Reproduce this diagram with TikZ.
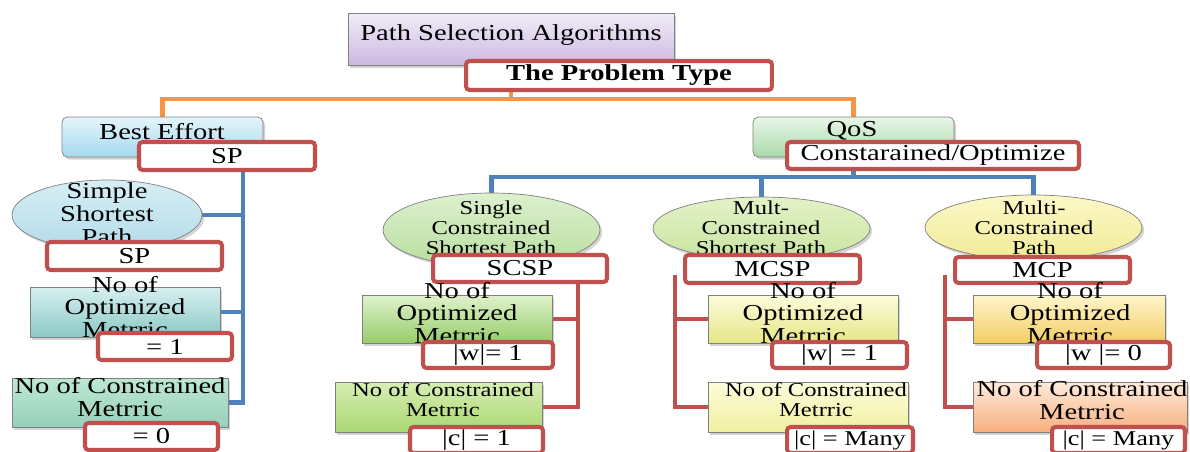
\documentclass[tikz,border=0pt]{standalone}
\usepackage{fontspec}
\setmainfont{Liberation Serif}[FakeStretch=1.25]
\usetikzlibrary{positioning,shapes.geometric,shadows}

\pgfdeclarelayer{bg}
\pgfsetlayers{bg,main}

\newcommand{\txtbig}{\fontsize{13}{13}\selectfont}
\newcommand{\txtsmall}{\fontsize{11.2}{11.4}\selectfont}

\definecolor{tagred}{RGB}{192,80,77}
\definecolor{orng}{RGB}{247,150,70}
\definecolor{blu}{RGB}{79,129,189}
\definecolor{ttlTop}{RGB}{242,236,248}
\definecolor{ttlBot}{RGB}{205,185,225}
\definecolor{beTop}{RGB}{228,244,251}
\definecolor{beBot}{RGB}{165,218,238}
\definecolor{qosTop}{RGB}{232,246,232}
\definecolor{qosBot}{RGB}{170,218,170}
\definecolor{sspTop}{RGB}{215,238,245}
\definecolor{sspBot}{RGB}{180,220,232}
\definecolor{optLTop}{RGB}{215,240,240}
\definecolor{optLBot}{RGB}{140,200,198}
\definecolor{conLTop}{RGB}{190,232,210}
\definecolor{conLBot}{RGB}{150,208,185}
\definecolor{scspTop}{RGB}{220,240,205}
\definecolor{scspBot}{RGB}{185,222,160}
\definecolor{optSTop}{RGB}{225,242,205}
\definecolor{optSBot}{RGB}{150,205,105}
\definecolor{conSTop}{RGB}{215,238,180}
\definecolor{conSBot}{RGB}{170,215,115}
\definecolor{mcspTop}{RGB}{228,242,200}
\definecolor{mcspBot}{RGB}{200,228,160}
\definecolor{optMTop}{RGB}{252,252,220}
\definecolor{optMBot}{RGB}{230,230,135}
\definecolor{conMTop}{RGB}{252,252,220}
\definecolor{conMBot}{RGB}{240,240,160}
\definecolor{mcpTop}{RGB}{252,248,200}
\definecolor{mcpBot}{RGB}{240,235,150}
\definecolor{optPTop}{RGB}{255,246,205}
\definecolor{optPBot}{RGB}{243,205,100}
\definecolor{conPTop}{RGB}{255,235,220}
\definecolor{conPBot}{RGB}{247,175,125}

\tikzset{
    % boxes with a shadow
    shbox/.style={
           rectangle,
           draw=black!50, thin,
           inner sep=0pt,
           drop shadow={opacity=0.35, shadow xshift=1.2pt, shadow yshift=-1.5pt}},
    roundbox/.style={
           shbox,
           rounded corners=3pt},
    oval/.style={
           ellipse,
           draw=black!50, thin,
           inner sep=0pt,
           drop shadow={opacity=0.35, shadow xshift=1.2pt, shadow yshift=-1.5pt}},
    % red label boxes
    tag/.style={
           rectangle,
           draw=tagred, line width=2.3pt,
           fill=white,
           rounded corners=2pt,
           inner sep=0pt,
           font=\txtbig},
    txt/.style={
           align=center,
           inner sep=0pt,
           font=\txtbig},
    stxt/.style={
           txt,
           font=\txtsmall},
    % connectors
    link/.style={
           line width=2.8pt}
}

\begin{document}
\begin{tikzpicture}[x=0.02cm, y=-0.02cm]
    \useasboundingbox (0,0) rectangle (1190,452);

    % TOP
    \node[shbox, top color=ttlTop, bottom color=ttlBot, minimum width=6.52cm, minimum height=1.04cm] (title) at (511,39) {};
    \node[txt] (titleT) at (511,35) {Path Selection Algorithms};
    \node[tag, minimum width=6.12cm, minimum height=0.58cm] (probTag) at (619,75.5) {\bfseries The Problem Type};

    \node[roundbox, top color=beTop, bottom color=beBot, minimum width=4.02cm, minimum height=0.8cm] (best) at (162.5,137) {};
    \node[txt] (bestT) at (162,132) {Best Effort};
    \node[tag, minimum width=3.52cm, minimum height=0.56cm] (spTag) at (227,156) {SP};

    \node[roundbox, top color=qosTop, bottom color=qosBot, minimum width=4.02cm, minimum height=0.8cm] (qos) at (853.5,137) {};
    \node[txt] (qosT) at (852,131) {QoS};
    \node[tag, minimum width=5.84cm, minimum height=0.54cm] (coTag) at (933,155.5) {Constarained/Optimize};

    % BEST EFFORT column
    \node[oval, top color=sspTop, bottom color=sspBot, minimum width=3.8cm, minimum height=1.4cm] (ssp) at (107,215) {};
    \node[txt] (sspT) at (107,214) {Simple\\Shortest\\Path};
    \node[tag, minimum width=3.5cm, minimum height=0.56cm] (sspTag) at (134.5,256) {SP};

    \node[shbox, top color=optLTop, bottom color=optLBot, minimum width=3.8cm, minimum height=1cm] (optL) at (125,312) {};
    \node[txt] (optLT) at (125,307) {No of\\Optimized\\Metrric};
    \node[tag, minimum width=2.68cm, minimum height=0.54cm] (wL) at (165,346.5) {= 1};

    \node[shbox, top color=conLTop, bottom color=conLBot, minimum width=4.32cm, minimum height=0.98cm] (conL) at (120,402.5) {};
    \node[txt] (conLT) at (120,397) {No of Constrained\\Metrric};
    \node[tag, minimum width=2.66cm, minimum height=0.54cm] (cL) at (151.5,436.5) {= 0};

    % SCSP column
    \node[oval, top color=scspTop, bottom color=scspBot, minimum width=4.34cm, minimum height=1.48cm] (scsp) at (491.5,230) {};
    \node[stxt] (scspT) at (491,228) {Single\\Constrained\\Shortest Path};
    \node[tag, minimum width=3.48cm, minimum height=0.54cm] (scspTag) at (520,268.5) {SCSP};

    \node[shbox, top color=optSTop, bottom color=optSBot, minimum width=3.8cm, minimum height=0.96cm] (optS) at (457,319) {};
    \node[txt] (optST) at (457,313) {No of\\Optimized\\Metrric};
    \node[tag, minimum width=2.6cm, minimum height=0.52cm] (wS) at (488,355) {|w|= 1};

    \node[shbox, top color=conSTop, bottom color=conSBot, minimum width=4.14cm, minimum height=1cm] (conS) at (438.5,407) {};
    \node[stxt] (conST) at (443,400) {No of Constrained\\Metrric};
    \node[tag, minimum width=2.66cm, minimum height=0.52cm] (cS) at (476.5,440) {|c| = 1};

    % MCSP column
    \node[oval, top color=mcspTop, bottom color=mcspBot, minimum width=4.34cm, minimum height=1.26cm] (mcsp) at (761.5,228.5) {};
    \node[stxt] (mcspT) at (761,228) {Mult-\\Constrained\\Shortest Path};
    \node[tag, minimum width=3.5cm, minimum height=0.56cm] (mcspTag) at (772.5,269) {MCSP};

    \node[shbox, top color=optMTop, bottom color=optMBot, minimum width=3.8cm, minimum height=0.96cm] (optM) at (803,319) {};
    \node[txt] (optMT) at (803,313) {No of\\Optimized\\Metrric};
    \node[tag, minimum width=2.7cm, minimum height=0.52cm] (wM) at (839.5,355) {|w| = 1};

    \node[shbox, top color=conMTop, bottom color=conMBot, minimum width=4cm, minimum height=1cm] (conM) at (808,407) {};
    \node[stxt] (conMT) at (816,400) {No of Constrained\\Metrric};
    \node[tag, minimum width=2.52cm, minimum height=0.52cm, font=\fontsize{12}{12}\selectfont] (cM) at (850,440) {|c| = Many};

    % MCP column
    \node[oval, top color=mcpTop, bottom color=mcpBot, minimum width=4.34cm, minimum height=1.3cm] (mcp) at (1033.5,227.5) {};
    \node[stxt] (mcpT) at (1034,228) {Multi-\\Constrained\\Path};
    \node[tag, minimum width=3.5cm, minimum height=0.52cm] (mcpTag) at (1042.5,270) {MCP};

    \node[shbox, top color=optPTop, bottom color=optPBot, minimum width=3.84cm, minimum height=0.96cm] (optP) at (1069,319) {};
    \node[txt] (optPT) at (1070,313) {No of\\Optimized\\Metrric};
    \node[tag, minimum width=2.66cm, minimum height=0.52cm] (wP) at (1103.5,355) {|w |= 0};

    \node[shbox, top color=conPTop, bottom color=conPBot, minimum width=4.28cm, minimum height=1cm] (conP) at (1080,407) {};
    \node[txt] (conPT) at (1082,400) {No of Constrained\\Metrric};
    \node[tag, minimum width=2.66cm, minimum height=0.52cm, font=\fontsize{12}{12}\selectfont] (cP) at (1118.5,440) {|c| = Many};

    % CONNECTORS
    \coordinate (junA) at (511,99);
    \coordinate (junB) at (853.5,177);
    \coordinate (trunkL) at (243,170);
    \coordinate (trunkS) at (578,282);
    \coordinate (trunkM) at (675,275);
    \coordinate (trunkP) at (945,275);
    \begin{pgfonlayer}{bg}
        \draw[link, orng] (title.south) -- (junA) -| (best.north);
        \draw[link, orng] (junA) -| (qos.north);

        \draw[link, blu] (qos.south) -- (junB) -| (scsp.north);
        \draw[link, blu] (junB) -| (mcsp.north);
        \draw[link, blu] (junB) -| (mcp.north);

        \draw[link, blu] (trunkL) |- (conL.east);
        \draw[link, blu] (ssp.east) -- (ssp.east -| trunkL);
        \draw[link, blu] (optL.east) -- (optL.east -| trunkL);

        \draw[link, tagred] (trunkS) |- (conS.east);
        \draw[link, tagred] (optS.east) -- (optS.east -| trunkS);
        \draw[link, tagred] (trunkM) |- (conM.west);
        \draw[link, tagred] (optM.west) -- (optM.west -| trunkM);
        \draw[link, tagred] (trunkP) |- (conP.west);
        \draw[link, tagred] (optP.west) -- (optP.west -| trunkP);
    \end{pgfonlayer}

\end{tikzpicture}
\end{document}
